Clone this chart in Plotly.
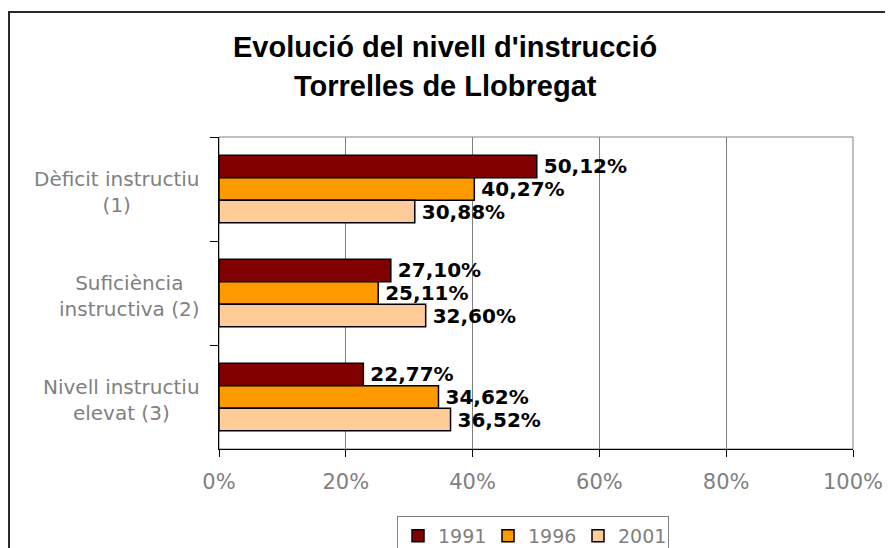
import plotly.graph_objects as go

# ---- data ----
cat_keys = ["Dèficit instructiu (1)", "Suficiència instructiva (2)", "Nivell instructiu elevat (3)"]
cat_labels = ["Dèficit instructiu<br>(1)", "Suficiència<br>instructiva (2)", "Nivell instructiu<br>elevat (3)"]
years = ["1991", "1996", "2001"]
v1991 = [50.12, 27.10, 22.77]
v1996 = [40.27, 25.11, 34.62]
v2001 = [30.88, 32.60, 36.52]
series = [v1991, v1996, v2001]
colors = ["#800000", "#FF9900", "#FFCC99"]
x_ticks = [0, 20, 40, 60, 80, 100]
title1 = "Evolució del nivell d'instrucció"
title2 = "Torrelles de Llobregat"

# page body has an 8px margin, so the figure is drawn 8px in from the window
OFF = 8
W, H = 893 - OFF, 548 - OFF
L, R, T, B = 219 - OFF, 40, 137 - OFF, 99
pw, ph = W - L - R, H - T - B


def px_x(px):  # reference window pixel -> paper
    return (px - OFF - L) / pw


def px_y(py):
    return (H - B - (py - OFF)) / ph


def fmt(v):
    return "\u2009" + f"{v:.2f}".replace(".", ",") + "%"


fig = go.Figure()
for yr, vals, col in zip(years, series, colors):
    fig.add_trace(go.Bar(
        name=yr, y=cat_keys, x=vals, orientation="h",
        marker=dict(color=col, line=dict(color="#000000", width=1.5)),
        text=[fmt(v) for v in vals], textposition="outside",
        textfont=dict(family="DejaVu Sans", size=20, color="#000000", weight="bold"),
        constraintext="none", cliponaxis=False, hoverinfo="skip",
    ))

annotations = []
for key, lab in zip(cat_keys, cat_labels):
    annotations.append(dict(
        x=px_x(202), xref="paper", y=key, yref="y", xanchor="right", yanchor="middle",
        text=lab, align="center", showarrow=False, yshift=-3,
        font=dict(family="DejaVu Sans", size=20, color="#808080"),
    ))
annotations.append(dict(x=px_x(445), xref="paper", y=px_y(47), yref="paper",
                        text="<b>" + title1 + "</b>", showarrow=False,
                        xanchor="center", yanchor="middle",
                        font=dict(family="Liberation Sans", size=29, color="#000000")))
annotations.append(dict(x=px_x(445), xref="paper", y=px_y(86), yref="paper",
                        text="<b>" + title2 + "</b>", showarrow=False,
                        xanchor="center", yanchor="middle",
                        font=dict(family="Liberation Sans", size=29, color="#000000")))

shapes = [
    # plot area border (gray)
    dict(type="rect", xref="paper", yref="paper", x0=0, x1=1, y0=0, y1=1,
         line=dict(color="#808080", width=1), layer="below"),
    # outer chart frame
    dict(type="rect", xref="paper", yref="paper", x0=px_x(9), x1=px_x(910),
         y0=px_y(570), y1=px_y(12), line=dict(color="#2a2a2a", width=2), layer="above"),
]

fig.update_layout(
    width=W, height=H,
    margin=dict(l=L, r=R, t=T, b=B, pad=0, autoexpand=False),
    paper_bgcolor="#FFFFFF", plot_bgcolor="#FFFFFF",
    barmode="group", bargap=0.35, bargroupgap=0,
    showlegend=True,
    legend=dict(orientation="h", x=px_x(533), xanchor="center", y=px_y(516), yanchor="top",
                bordercolor="#808080", borderwidth=1, bgcolor="#FFFFFF",
                font=dict(family="DejaVu Sans", size=19, color="#808080"),
                traceorder="normal", entrywidth=45, entrywidthmode="pixels"),
    xaxis=dict(range=[0, 100], tickvals=x_ticks, ticktext=[f"{t}%" for t in x_ticks],
               showgrid=True, gridcolor="#808080", gridwidth=1,
               showline=True, linecolor="#000000", linewidth=1,
               ticks="outside", ticklen=7, tickcolor="#000000",
               tickfont=dict(family="DejaVu Sans", size=21, color="#808080"),
               ticklabelstandoff=7, zeroline=False, fixedrange=True),
    yaxis=dict(type="category", categoryorder="array", categoryarray=cat_keys,
               autorange="reversed", tickson="boundaries", ticks="outside", ticklen=8,
               tickcolor="#000000", showticklabels=False, showgrid=False,
               showline=True, linecolor="#000000", linewidth=1, zeroline=False,
               fixedrange=True),
    annotations=annotations, shapes=shapes,
)

fig.write_html("out.html")
